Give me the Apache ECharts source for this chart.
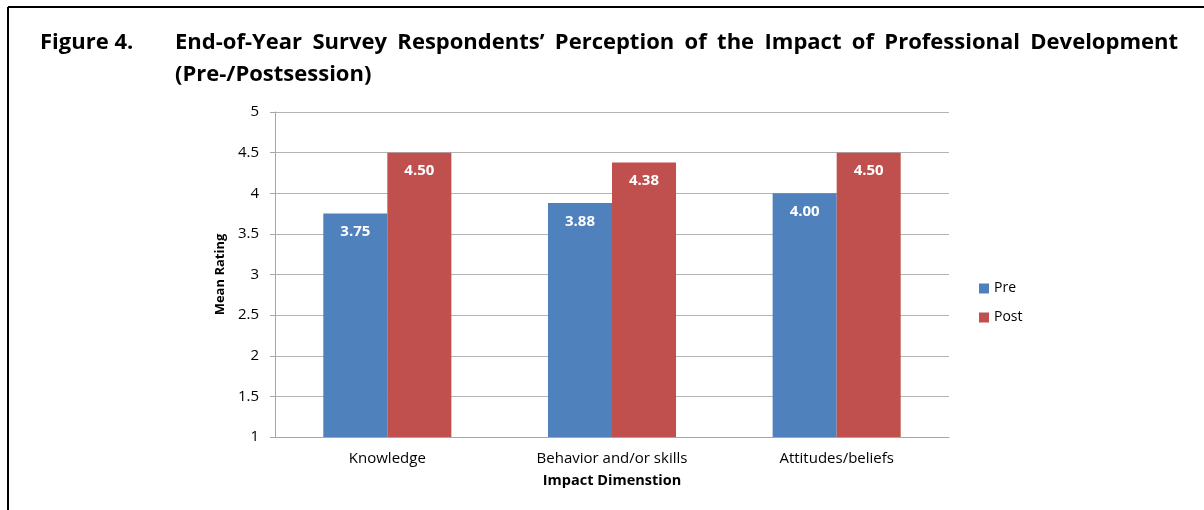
<!DOCTYPE html>
<html>
<head>
<meta charset="utf-8">
<script src="https://cdn.jsdelivr.net/npm/echarts@6/dist/echarts.min.js"></script>
<style>
html,body{margin:0;padding:0;background:#fff;}
#c{width:1204px;height:510px;}
</style>
</head>
<body>
<div id="c"></div>
<script>
const categories = ['Knowledge', 'Behavior and/or skills', 'Attitudes/beliefs'];
const preValues = [3.75, 3.88, 4.00];
const postValues = [4.50, 4.38, 4.50];
const seriesNames = ['Pre', 'Post'];
const yTicks = { min: 1, max: 5, interval: 0.5 };
const figureLabel = 'Figure 4.';
const titleLine1 = 'End-of-Year Survey Respondents’ Perception of the Impact of Professional Development';
const titleLine2 = '(Pre-/Postsession)';

const FONT = '"Open Sans", Lato, sans-serif';
const TITLE_FONT = 'bold 22px ' + FONT;

// justify first title line between x=175 and x=1178
function justifiedWords(text, x0, x1, y) {
  const ctx = document.createElement('canvas').getContext('2d');
  ctx.font = TITLE_FONT;
  const words = text.split(' ');
  const widths = words.map(w => ctx.measureText(w).width);
  const total = widths.reduce((a, b) => a + b, 0);
  const gap = (x1 - x0 - total) / (words.length - 1);
  let x = x0;
  return words.map((w, i) => {
    const el = { type: 'text', x: x, y: y, style: { text: w, font: TITLE_FONT, fill: '#000', textVerticalAlign: 'middle' } };
    x += widths[i] + gap;
    return el;
  });
}

const chart = echarts.init(document.getElementById('c'));
const labelCfg = {
  show: true, position: 'insideTop', distance: 11,
  color: '#fff', fontWeight: 'bold', fontSize: 15, fontFamily: FONT,
  formatter: p => p.value.toFixed(2)
};
chart.setOption({
  animation: false,
  graphic: [
    { type: 'line', shape: { x1: 8, y1: 7, x2: 1204, y2: 7 }, style: { stroke: '#000', lineWidth: 2 } },
    { type: 'line', shape: { x1: 8, y1: 7, x2: 8, y2: 510 }, style: { stroke: '#000', lineWidth: 2 } },
    { type: 'text', x: 40, y: 43, style: { text: figureLabel, font: TITLE_FONT, fill: '#000', textVerticalAlign: 'middle' } },
    ...justifiedWords(titleLine1, 175, 1178, 43),
    { type: 'text', x: 175, y: 75, style: { text: titleLine2, font: TITLE_FONT, fill: '#000', textVerticalAlign: 'middle' } }
  ],
  legend: {
    orient: 'vertical', left: 979, top: 279, itemGap: 10, padding: 0,
    itemWidth: 10, itemHeight: 10, icon: 'rect',
    textStyle: { fontFamily: FONT, fontSize: 14, color: '#000', lineHeight: 19 },
    data: seriesNames
  },
  grid: { left: 275, right: 255, top: 112, bottom: 73, containLabel: false },
  xAxis: {
    type: 'category', data: categories,
    name: 'Impact Dimenstion', nameLocation: 'middle', nameGap: 36,
    nameTextStyle: { fontFamily: FONT, fontWeight: 'bold', fontSize: 14.5, color: '#000' },
    axisLine: { lineStyle: { color: '#a6a6a6' } },
    axisTick: { show: false },
    axisLabel: { fontFamily: FONT, fontSize: 15, color: '#000', margin: 14 }
  },
  yAxis: {
    type: 'value', min: yTicks.min, max: yTicks.max, interval: yTicks.interval,
    name: 'Mean Rating', nameLocation: 'middle', nameGap: 45, nameRotate: 90,
    nameTextStyle: { fontFamily: FONT, fontWeight: 'bold', fontSize: 13, color: '#000' },
    axisLine: { show: true, lineStyle: { color: '#a6a6a6' } },
    axisTick: { show: true, length: 5, lineStyle: { color: '#a6a6a6' } },
    axisLabel: { fontFamily: FONT, fontSize: 15, color: '#000', margin: 16 },
    splitLine: { lineStyle: { color: '#b3b3b3' } }
  },
  series: [
    { name: seriesNames[0], type: 'bar', data: preValues, barGap: '0%', barCategoryGap: '43%',
      itemStyle: { color: '#4F81BD' }, label: labelCfg },
    { name: seriesNames[1], type: 'bar', data: postValues, barGap: '0%', barCategoryGap: '43%',
      itemStyle: { color: '#C0504D' }, label: labelCfg }
  ]
});
</script>
</body>
</html>
